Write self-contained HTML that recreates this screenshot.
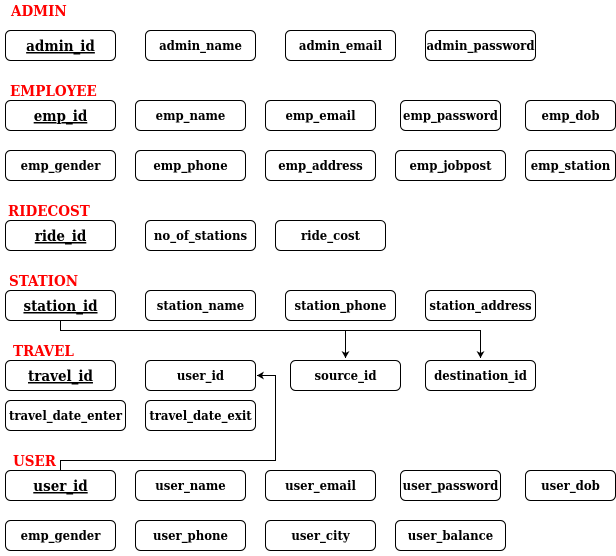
<!DOCTYPE html>
<html><head><meta charset="utf-8"><style>
html,body{margin:0;padding:0;background:#fff;}
svg text{font-family:"DejaVu Serif Condensed","DejaVu Serif","Liberation Serif",serif;font-stretch:condensed;font-weight:bold;}
</style></head><body>
<svg width="616" height="551" xmlns="http://www.w3.org/2000/svg">
<defs><marker id="a" markerWidth="8" markerHeight="8" refX="7" refY="4" orient="auto" markerUnits="userSpaceOnUse"><path d="M0,0 L7,4 L0,8 L2,4 Z" fill="#000"/></marker></defs>
<g fill="red" font-size="15">
<text x="11" y="16">ADMIN</text>
<text x="10" y="96">EMPLOYEE</text>
<text x="8" y="216">RIDECOST</text>
<text x="9" y="286">STATION</text>
<text x="13" y="356">TRAVEL</text>
<text x="13" y="466">USER</text>
</g>
<g fill="none" stroke="#000" stroke-width="1">
<path d="M60.5 320V330.5H480.5V358" marker-end="url(#a)"/>
<path d="M345.5 330.5V358" marker-end="url(#a)"/>
<path d="M60.5 470V460.5H275.5V375.5H257" marker-end="url(#a)"/>
</g>
<g fill="#fff" stroke="#000" stroke-width="1">
<rect x="5.5" y="30.5" width="110" height="30" rx="5"/>
<rect x="145.5" y="30.5" width="110" height="30" rx="5"/>
<rect x="285.5" y="30.5" width="110" height="30" rx="5"/>
<rect x="425.5" y="30.5" width="110" height="30" rx="5"/>
<rect x="5.5" y="100.5" width="110" height="30" rx="5"/>
<rect x="135.5" y="100.5" width="110" height="30" rx="5"/>
<rect x="265.5" y="100.5" width="110" height="30" rx="5"/>
<rect x="400.5" y="100.5" width="100" height="30" rx="5"/>
<rect x="525.5" y="100.5" width="90" height="30" rx="5"/>
<rect x="5.5" y="150.5" width="110" height="30" rx="5"/>
<rect x="135.5" y="150.5" width="110" height="30" rx="5"/>
<rect x="265.5" y="150.5" width="110" height="30" rx="5"/>
<rect x="395.5" y="150.5" width="110" height="30" rx="5"/>
<rect x="525.5" y="150.5" width="90" height="30" rx="5"/>
<rect x="5.5" y="220.5" width="110" height="30" rx="5"/>
<rect x="145.5" y="220.5" width="110" height="30" rx="5"/>
<rect x="275.5" y="220.5" width="110" height="30" rx="5"/>
<rect x="5.5" y="290.5" width="110" height="30" rx="5"/>
<rect x="145.5" y="290.5" width="110" height="30" rx="5"/>
<rect x="285.5" y="290.5" width="110" height="30" rx="5"/>
<rect x="425.5" y="290.5" width="110" height="30" rx="5"/>
<rect x="5.5" y="360.5" width="110" height="30" rx="5"/>
<rect x="145.5" y="360.5" width="110" height="30" rx="5"/>
<rect x="290.5" y="360.5" width="110" height="30" rx="5"/>
<rect x="425.5" y="360.5" width="110" height="30" rx="5"/>
<rect x="5.5" y="400.5" width="120" height="30" rx="5"/>
<rect x="145.5" y="400.5" width="110" height="30" rx="5"/>
<rect x="5.5" y="470.5" width="110" height="30" rx="5"/>
<rect x="135.5" y="470.5" width="110" height="30" rx="5"/>
<rect x="265.5" y="470.5" width="110" height="30" rx="5"/>
<rect x="400.5" y="470.5" width="100" height="30" rx="5"/>
<rect x="525.5" y="470.5" width="90" height="30" rx="5"/>
<rect x="5.5" y="520.5" width="110" height="30" rx="5"/>
<rect x="135.5" y="520.5" width="110" height="30" rx="5"/>
<rect x="265.5" y="520.5" width="110" height="30" rx="5"/>
<rect x="395.5" y="520.5" width="110" height="30" rx="5"/>
</g>
<g text-anchor="middle" font-size="15">
<text x="60.5" y="51" text-decoration="underline">admin_id</text>
<text x="60.5" y="121" text-decoration="underline">emp_id</text>
<text x="60.5" y="241" text-decoration="underline">ride_id</text>
<text x="60.5" y="311" text-decoration="underline">station_id</text>
<text x="60.5" y="381" text-decoration="underline">travel_id</text>
<text x="60.5" y="491" text-decoration="underline">user_id</text>
</g>
<g text-anchor="middle" font-size="13">
<text x="200.5" y="50">admin_name</text>
<text x="340.5" y="50">admin_email</text>
<text x="480.5" y="50">admin_password</text>
<text x="190.5" y="120">emp_name</text>
<text x="320.5" y="120">emp_email</text>
<text x="450.5" y="120">emp_password</text>
<text x="570.5" y="120">emp_dob</text>
<text x="60.5" y="170">emp_gender</text>
<text x="190.5" y="170">emp_phone</text>
<text x="320.5" y="170">emp_address</text>
<text x="450.5" y="170">emp_jobpost</text>
<text x="570.5" y="170">emp_station</text>
<text x="200.5" y="240">no_of_stations</text>
<text x="330.5" y="240">ride_cost</text>
<text x="200.5" y="310">station_name</text>
<text x="340.5" y="310">station_phone</text>
<text x="480.5" y="310">station_address</text>
<text x="200.5" y="380">user_id</text>
<text x="345.5" y="380">source_id</text>
<text x="480.5" y="380">destination_id</text>
<text x="65.5" y="420">travel_date_enter</text>
<text x="200.5" y="420">travel_date_exit</text>
<text x="190.5" y="490">user_name</text>
<text x="320.5" y="490">user_email</text>
<text x="450.5" y="490">user_password</text>
<text x="570.5" y="490">user_dob</text>
<text x="60.5" y="540">emp_gender</text>
<text x="190.5" y="540">user_phone</text>
<text x="320.5" y="540">user_city</text>
<text x="450.5" y="540">user_balance</text>
</g>
</svg>
</body></html>
